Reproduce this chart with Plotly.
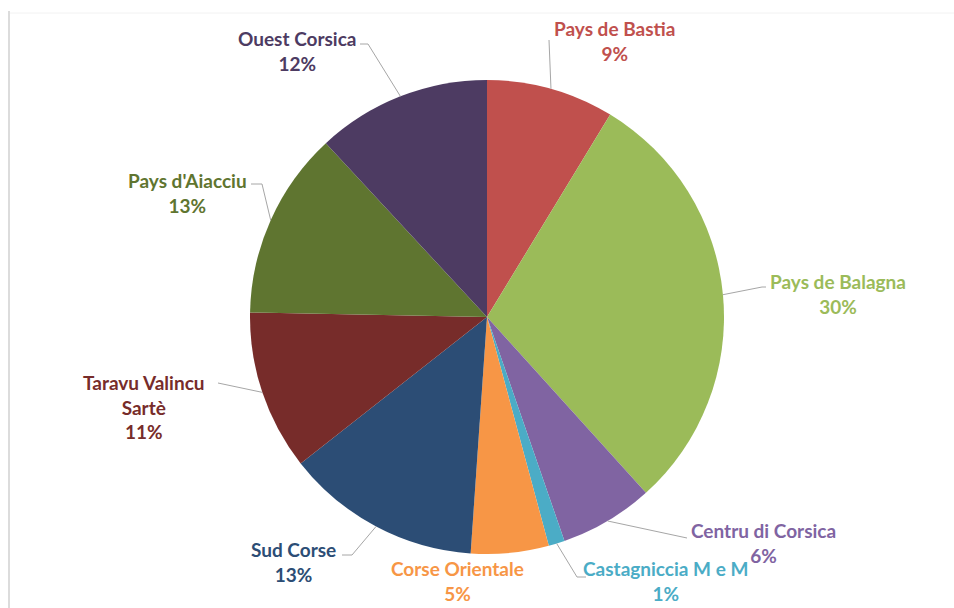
import math
import plotly.graph_objects as go

# ---- data ----
regions = ["Pays de Bastia", "Pays de Balagna", "Centru di Corsica", "Castagniccia M e M",
           "Corse Orientale", "Sud Corse", "Taravu Valincu Sartè", "Pays d'Aiacciu", "Ouest Corsica"]
label_lines = [["Pays de Bastia"], ["Pays de Balagna"], ["Centru di Corsica"], ["Castagniccia M e M"],
               ["Corse Orientale"], ["Sud Corse"], ["Taravu Valincu", "Sartè"], ["Pays d'Aiacciu"], ["Ouest Corsica"]]
shares = [8.7, 29.6, 6.4, 1.1, 5.3, 13.3, 10.9, 12.8, 11.9]
colors = ["#C0504D", "#9BBB59", "#8064A2", "#4BACC6", "#F79646", "#2C4D75", "#772C2A", "#5F7530", "#4D3B62"]

# ---- layout (pixels) ----
W, H = 954, 608
CX, CY, R = 487, 317, 237
# label centre (x, y of first line) and leader elbow points
label_pos = [(614, 29), (838, 282), (763, 531), (665, 576), (457, 576), (293, 550), (144, 382), (187, 181), (297, 39)]
leader = [[(549, 40)], [(762, 287), (766, 287)], [(687, 538)], [(577, 577), (586, 577)], [],
          [(352, 555), (342, 555)], [(218, 383)], [(262, 184), (251, 184)], [(368, 44), (360, 44)]]
FONT = "Lato"
FS = 19
LINE_H = 1.3 * FS  # plotly annotation line spacing


def px(x):
    return x / W


def py(y):
    return 1 - y / H


fig = go.Figure()
fig.add_trace(go.Pie(
    labels=regions, values=shares, sort=False, direction="clockwise", rotation=0,
    marker=dict(colors=colors, line=dict(width=0)), textinfo="none", hoverinfo="label+percent",
    showlegend=False,
    domain=dict(x=[px(CX - R), px(CX + R)], y=[py(CY + R), py(CY - R)]),
))

total = sum(shares)
cum = 0.0
annotations = []
shapes = []
for i, v in enumerate(shares):
    mid = (cum + v / 2) / total * 2 * math.pi
    cum += v
    ex = CX + R * math.sin(mid)
    ey = CY - R * math.cos(mid)
    pts = [(ex, ey)] + leader[i]
    for (x0, y0), (x1, y1) in zip(pts[:-1], pts[1:]):
        shapes.append(dict(type="line", xref="paper", yref="paper", x0=px(x0), y0=py(y0), x1=px(x1), y1=py(y1),
                           line=dict(color="#A6A6A6", width=1)))
    lx, ly = label_pos[i]
    lines = label_lines[i] + [f"{round(v / total * 100):d}%"]
    n = len(lines)
    yc = ly + (n - 1) * LINE_H / 2
    yc = min(yc, H - n * LINE_H / 2 - 2)
    annotations.append(dict(text="<br>".join(f"<b>{t}</b>" for t in lines), x=px(lx), y=py(yc),
                            xref="paper", yref="paper", showarrow=False, xanchor="center", yanchor="middle",
                            align="center", font=dict(family=FONT, size=FS, color=colors[i])))

# chart frame lines
shapes.append(dict(type="line", xref="paper", yref="paper", x0=px(9), y0=py(11), x1=px(9), y1=py(608),
                   line=dict(color="#D0D0D0", width=1.5)))
shapes.append(dict(type="line", xref="paper", yref="paper", x0=px(10), y0=py(13), x1=px(954), y1=py(13),
                   line=dict(color="#F2F2F2", width=1)))

fig.update_layout(
    width=W, height=H, margin=dict(l=0, r=0, t=0, b=0),
    paper_bgcolor="white", plot_bgcolor="white",
    annotations=annotations, shapes=shapes,
)
fig.write_html("out.html", config={"displayModeBar": False},
               post_script="document.body.style.margin='0';document.body.style.overflow='hidden';")
